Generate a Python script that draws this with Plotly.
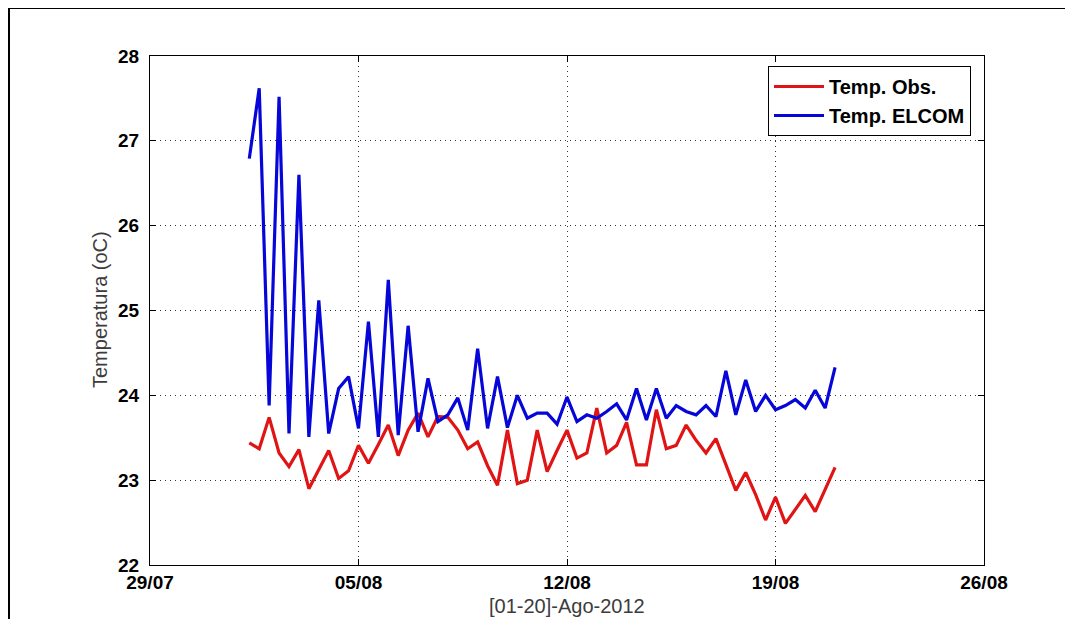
import pandas as pd
import plotly.graph_objects as go

# Sampling: every 8 h starting 01/08/2012 08:00 (60 samples)
times = pd.date_range("2012-08-01 08:00", periods=60, freq="8h")

temp_obs = [23.44, 23.37, 23.74, 23.32, 23.16, 23.36, 22.90, 23.12, 23.35, 23.02,
            23.11, 23.41, 23.20, 23.42, 23.65, 23.29, 23.59, 23.79, 23.51, 23.75,
            23.74, 23.59, 23.37, 23.45, 23.17, 22.94, 23.59, 22.96, 23.00, 23.59,
            23.10, 23.35, 23.59, 23.26, 23.32, 23.85, 23.32, 23.41, 23.68, 23.18,
            23.18, 23.83, 23.37, 23.41, 23.65, 23.47, 23.32, 23.49, 23.19, 22.88,
            23.09, 22.83, 22.53, 22.80, 22.49, 22.66, 22.82, 22.63, 22.89, 23.15]

temp_elcom = [26.79, 27.62, 23.88, 27.52, 23.55, 26.60, 23.51, 25.12, 23.55, 24.08,
              24.22, 23.61, 24.87, 23.51, 25.36, 23.53, 24.82, 23.57, 24.20, 23.69,
              23.77, 23.97, 23.59, 24.55, 23.61, 24.22, 23.62, 24.00, 23.73, 23.79,
              23.79, 23.66, 23.98, 23.69, 23.77, 23.73, 23.81, 23.90, 23.71, 24.08,
              23.71, 24.08, 23.73, 23.88, 23.81, 23.77, 23.88, 23.75, 24.29, 23.77,
              24.18, 23.81, 24.00, 23.83, 23.88, 23.95, 23.85, 24.06, 23.85, 24.33]

series_names = ["Temp. Obs.", "Temp. ELCOM"]
x_tick_vals = ["2012-07-29", "2012-08-05", "2012-08-12", "2012-08-19", "2012-08-26"]
x_tick_text = ["29/07", "05/08", "12/08", "19/08", "26/08"]
y_ticks = [22, 23, 24, 25, 26, 27, 28]
x_title = "[01-20]-Ago-2012"
y_title = "Temperatura (oC)"

# page body has an 8px margin; work in page coordinates and shift
OFF = 8
W, H = 1057, 611
L, T = 150 - OFF, 56 - OFF
pw, ph = 834, 509
R = W - L - pw
B = H - T - ph

def px(x):  # page pixel -> paper
    return (x - OFF - L) / pw

def py(y):
    return (T + ph - (y - OFF)) / ph

fig = go.Figure()
fig.add_trace(go.Scatter(x=times, y=temp_obs, mode="lines", name=series_names[0],
                         line=dict(color="#e01414", width=3.2)))
fig.add_trace(go.Scatter(x=times, y=temp_elcom, mode="lines", name=series_names[1],
                         line=dict(color="#0606d8", width=3.2)))

tick_font = dict(family="Liberation Sans, Arial", size=19, color="black", weight="bold")
axis_common = dict(showline=True, linecolor="black", linewidth=1, mirror="ticks",
                   ticks="inside", ticklen=6, tickcolor="black",
                   showgrid=True, gridcolor="#333333", griddash="1px,4px", gridwidth=1,
                   zeroline=False, tickfont=tick_font)

fig.update_layout(
    width=W, height=H,
    margin=dict(l=L, r=R, t=T, b=B),
    paper_bgcolor="white", plot_bgcolor="white",
    showlegend=True,
    legend=dict(x=px(971), y=py(66), xanchor="right", yanchor="top",
                bgcolor="white", bordercolor="black", borderwidth=1,
                font=dict(family="Liberation Sans, Arial", size=20, color="black", weight="bold"),
                itemwidth=50, tracegroupgap=0),
    xaxis=dict(range=["2012-07-29", "2012-08-26"], tickvals=x_tick_vals, ticktext=x_tick_text,
               **axis_common),
    yaxis=dict(range=[22, 28], tickvals=y_ticks, ticklabelstandoff=6, **axis_common),
    annotations=[
        dict(text=x_title, xref="paper", yref="paper", x=px(567), y=py(606),
             xanchor="center", yanchor="middle", showarrow=False,
             font=dict(family="Liberation Sans, Arial", size=20, color="#3c3c3c")),
        dict(text=y_title, xref="paper", yref="paper", x=px(100), y=py(310),
             xanchor="center", yanchor="middle", showarrow=False, textangle=-90,
             font=dict(family="Liberation Sans, Arial", size=20, color="#3c3c3c")),
    ],
    shapes=[
        dict(type="line", xref="paper", yref="paper", x0=px(9), x1=px(9), y0=py(8), y1=py(640),
             line=dict(color="black", width=2)),
        dict(type="line", xref="paper", yref="paper", x0=px(9), x1=px(1080), y0=py(8), y1=py(8),
             line=dict(color="black", width=2)),
    ],
)

fig.write_html("out.html")
